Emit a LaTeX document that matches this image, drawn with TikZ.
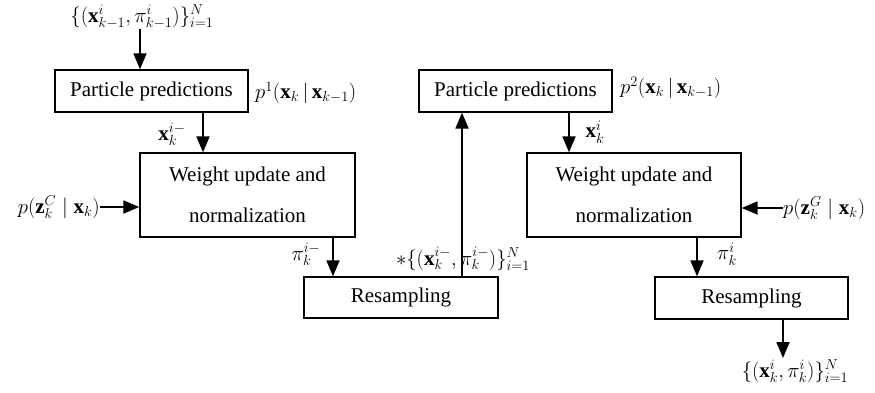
\documentclass[tikz,border=0pt]{standalone}
\usepackage{fontspec}
\setmainfont{Liberation Serif}
\usetikzlibrary{arrows.meta}
\begin{document}
\begin{tikzpicture}[x=1pt,y=-1pt,
  every node/.style={font=\fontsize{21}{25}\selectfont, inner sep=0pt},
  box/.style={draw, line width=1.3pt, minimum height=42pt},
  lbl/.style={},
  arr/.style={line width=1.8pt, -{Triangle[length=16pt,width=13pt]}}]
\useasboundingbox (0,0) rectangle (875,392);
% boxes
\node[box, minimum width=193pt] (PP1) at (151.5,91) {Particle predictions};
\node[box, minimum width=215pt, minimum height=84pt, align=center, font=\fontsize{21}{41}\selectfont] (WU1) at (247.5,195) {Weight update and\\normalization};
\node[box, minimum width=194pt, minimum height=41pt] (RS1) at (401,297.5) {Resampling};
\node[box, minimum width=193pt] (PP2) at (515.5,91) {Particle predictions};
\node[box, minimum width=214pt, minimum height=84pt, align=center, font=\fontsize{21}{41}\selectfont] (WU2) at (634,195) {Weight update and\\normalization};
\node[box, minimum width=193pt] (RS2) at (751.5,298) {Resampling};
% labels
\node[lbl] (in) at (142,17) {$\{(\mathbf{x}_{k-1}^{i},\pi_{k-1}^{i})\}_{i=1}^{N}$};
\node[lbl, anchor=west] (p1) at (255,93) {$p^{1}(\mathbf{x}_k\,|\,\mathbf{x}_{k-1})$};
\node[lbl] (xk1) at (172,134) {$\mathbf{x}_k^{i-}$};
\node[lbl, anchor=east] (pC) at (100,207) {$p(\mathbf{z}_k^{C}\;|\;\mathbf{x}_k)$};
\node[lbl] (pi1) at (306,254) {$\pi_k^{i-}$};
\node[lbl] (star) at (463,259) {$\ast\{(\mathbf{x}_k^{i-},\pi_k^{i-})\}_{i=1}^{N}$};
\node[lbl, anchor=west] (p2) at (620,88) {$p^{2}(\mathbf{x}_k\,|\,\mathbf{x}_{k-1})$};
\node[lbl] (xk2) at (595,132) {$\mathbf{x}_k^{i}$};
\node[lbl, anchor=west] (pG) at (783,208) {$p(\mathbf{z}_k^{G}\;|\;\mathbf{x}_k)$};
\node[lbl] (pi2) at (727,254) {$\pi_k^{i}$};
\node[lbl] (out) at (795,371) {$\{(\mathbf{x}_k^{i},\pi_k^{i})\}_{i=1}^{N}$};
% x positions of connectors
\coordinate (c1) at (140,0);
\coordinate (c2) at (203,0);
\coordinate (c3) at (333,0);
\coordinate (c4) at (462,0);
\coordinate (c5) at (569,0);
\coordinate (c6) at (697,0);
\coordinate (c7) at (783,0);
\coordinate (yC) at (0,207);
\coordinate (yG) at (0,208);
\coordinate (yout) at (0,358);
% connectors
\draw[arr] (in.south -| c1) -- (PP1.north -| c1);
\draw[arr] (PP1.south -| c2) -- (WU1.north -| c2);
\draw[arr] (pC.east |- yC) -- (WU1.west |- yC);
\draw[arr] (WU1.south -| c3) -- (RS1.north -| c3);
\draw[arr] (RS1.north -| c4) -- (PP2.south -| c4);
\draw[arr] (PP2.south -| c5) -- (WU2.north -| c5);
\draw[arr] (pG.west |- yG) -- (WU2.east |- yG);
\draw[arr] (WU2.south -| c6) -- (RS2.north -| c6);
\draw[arr] (RS2.south -| c7) -- (yout -| c7);
\end{tikzpicture}
\end{document}
